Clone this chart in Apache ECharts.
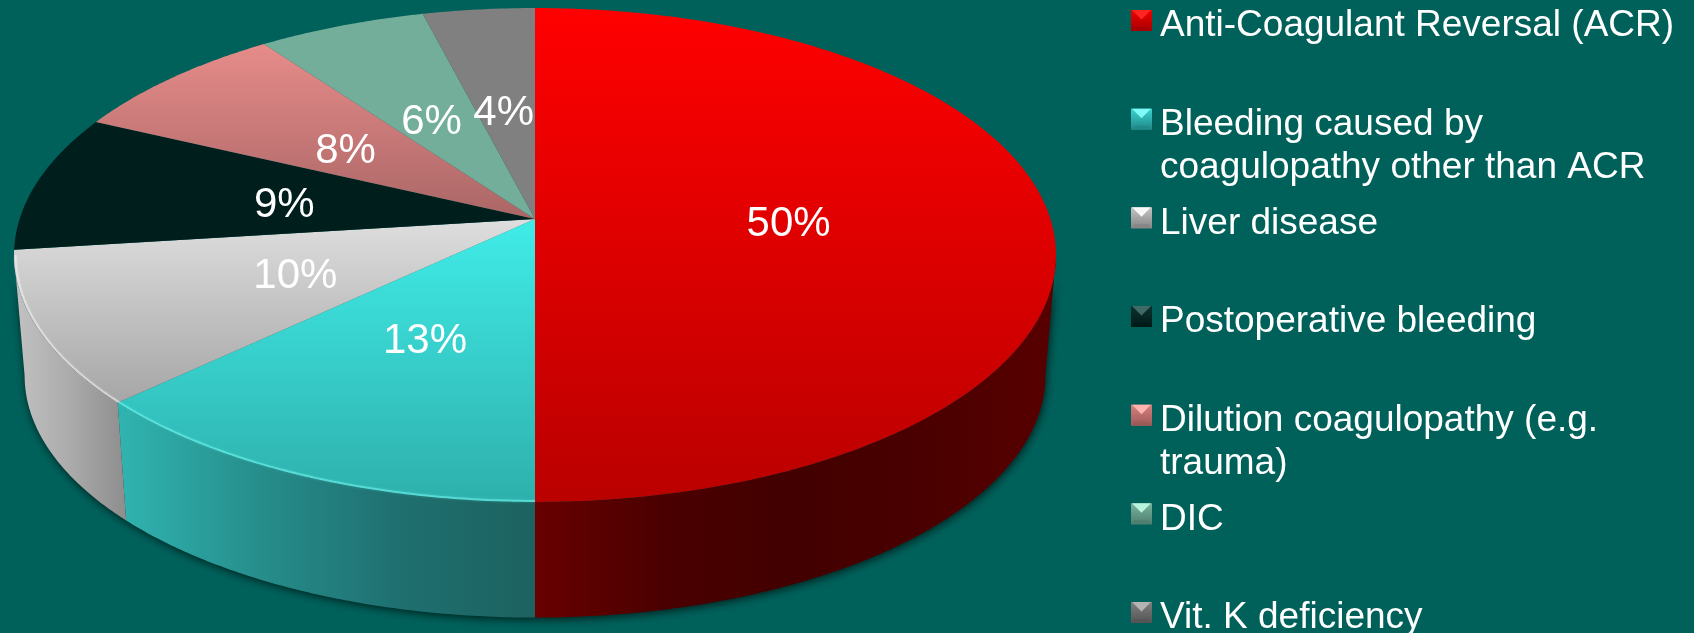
<!DOCTYPE html>
<html>
<head>
<meta charset="utf-8">
<style>
  html, body { margin: 0; padding: 0; background: #00615b; }
  #chart { width: 1694px; height: 633px; }
</style>
<script src="https://cdn.jsdelivr.net/npm/echarts@6/dist/echarts.min.js"></script>
</head>
<body>
<div id="chart"></div>
<script>
// Shares of indication, clockwise from twelve o'clock.
const categories = [
  'Anti-Coagulant Reversal (ACR)',
  'Bleeding caused by\ncoagulopathy other than ACR',
  'Liver disease',
  'Postoperative bleeding',
  'Dilution coagulopathy (e.g.\ntrauma)',
  'DIC',
  'Vit. K deficiency'
];
const shares = [50, 13, 10, 9, 8, 6, 4];

// Perspective disc: a unit circle projected onto the page, apex at (CX, CY).
const CX = 535, CY = 219, RX = 515.4, RY = 241.7, TILT = 0.1457;
// The lower rim is the upper rim pulled toward a far vanishing point.
const VANISH_Y = 6200, DEPTH = 0.0203;
const FONT = '"Liberation Sans", Arial, sans-serif';

const total = shares.reduce((s, v) => s + v, 0);
const spans = [];
shares.reduce((acc, v) => {
  spans.push([acc / total * 360, (acc + v) / total * 360]);
  return acc + v;
}, 0);

const rad = d => d * Math.PI / 180;
function topPoint(deg, f) {
  const a = f * Math.sin(rad(deg)), b = -f * Math.cos(rad(deg));
  const w = 1 - TILT * b;
  return [CX + RX * a / w, CY + RY * b / w];
}
function lowPoint(deg) {
  const p = topPoint(deg, 1);
  return [p[0] + DEPTH * (CX - p[0]), p[1] + DEPTH * (VANISH_Y - p[1])];
}
function arc(fn, from, to) {
  const n = Math.max(2, Math.ceil(Math.abs(to - from) * 2));
  const pts = [];
  for (let i = 0; i <= n; i++) pts.push(fn(from + (to - from) * i / n));
  return pts;
}
// Angles where the rim turns from the visible front to the hidden back.
const FRONT_FROM = Math.acos(-TILT) * 180 / Math.PI, FRONT_TO = 360 - FRONT_FROM;

const vgrad = (y0, y1, c0, c1) => ({
  type: 'linear', global: true, x: 0, y: y0, x2: 0, y2: y1,
  colorStops: [{ offset: 0, color: c0 }, { offset: 1, color: c1 }]
});
const hgrad = (x0, x1, stops) => ({
  type: 'linear', global: true, x: x0, y: 0, x2: x1, y2: 0,
  colorStops: stops.map((c, i) => ({ offset: i / (stops.length - 1), color: c }))
});

const faceFills = [
  vgrad(8, 502, '#ff0000', '#ba0000'),
  vgrad(219, 502, '#40ece8', '#2eb0ac'),
  vgrad(219, 403, '#dedede', '#a6a6a6'),
  vgrad(122, 250, '#001e1c', '#001e1c'),
  vgrad(44, 219, '#e68c8a', '#aa6666'),
  vgrad(14, 219, '#73ae9a', '#73ae9a'),
  vgrad(8, 219, '#808080', '#808080')
];
const sideFills = [
  hgrad(535, 1055, ['#680000', '#4a0000', '#420000', '#4a0000', '#580000']),
  hgrad(119, 535, ['#30b4b0', '#268e8c', '#1f7070', '#1c6260']),
  hgrad(14, 125, ['#c2c2c2', '#ababab', '#8e8e8e'])
];
const rimGlow = ['rgba(255,60,60,0)', 'rgba(120,250,245,0.5)', 'rgba(245,245,245,0.5)'];
const markerTones = [
  ['#ff2424', '#ee0000', '#a80000'],
  ['#7ffaf6', '#3cd2d0', '#1f8a88'],
  ['#f8f8f8', '#c4c4c4', '#868686'],
  ['#3f6a66', '#0e3230', '#001a18'],
  ['#ffb4b2', '#d8807e', '#9c5a58'],
  ['#b8f4dc', '#78b4a0', '#4f7f6e'],
  ['#b4b4b4', '#7e7e7e', '#555555']
];

const flat = pts => ({ points: pts });

function renderShadow() {
  const outline = arc(lowPoint, FRONT_FROM, FRONT_TO).concat(arc(d => topPoint(d, 1), FRONT_TO, FRONT_FROM));
  return {
    type: 'polygon', shape: flat(outline),
    style: { fill: '#003c38', shadowBlur: 8, shadowColor: 'rgba(0,20,18,0.85)', shadowOffsetY: 2, shadowOffsetX: 1 }
  };
}

function renderSide(params) {
  const [s, e] = spans[params.dataIndex];
  const from = Math.max(s, FRONT_FROM), to = Math.min(e, FRONT_TO);
  if (to <= from) return null;
  const upper = arc(d => topPoint(d, 1), from, to);
  const lower = arc(lowPoint, to, from);
  return {
    type: 'polygon', shape: flat(upper.concat(lower)),
    style: { fill: sideFills[params.dataIndex] }
  };
}

function renderFace(params) {
  const i = params.dataIndex;
  const [s, e] = spans[i];
  const rim = arc(d => topPoint(d, 1), s, e);
  const children = [{
    type: 'polygon', shape: flat([[CX, CY]].concat(rim)),
    style: { fill: faceFills[i] }
  }];
  if (i === 1 || i === 2) {
    const from = Math.max(s, FRONT_FROM), to = Math.min(e, FRONT_TO);
    children.push({
      type: 'polyline', shape: flat(arc(d => topPoint(d, 0.997), from, to)),
      style: { fill: 'none', stroke: rimGlow[i], lineWidth: 2, shadowBlur: 3, shadowColor: rimGlow[i] }
    });
  }
  return { type: 'group', children };
}

const shareLabel = i => shares[i] + '%';
function renderShareLabel(params) {
  const i = params.dataIndex;
  const [s, e] = spans[i];
  const p = topPoint((s + e) / 2, 0.495);
  return {
    type: 'text',
    style: {
      x: p[0] - 1.5, y: p[1] + 5, text: shareLabel(i), fill: '#ffffff',
      font: '42px ' + FONT, align: 'center', verticalAlign: 'middle'
    }
  };
}

// Legend rows sit on an even pitch; wrapped entries grow downward from their row.
const ROW_TOP = 10, ROW_PITCH = 98.67, BOX = 21, BOX_X = 1131, TEXT_X = 1160;
function renderLegendRow(params) {
  const i = params.dataIndex;
  const y = ROW_TOP + ROW_PITCH * i;
  const x = BOX_X, m = BOX / 2;
  const [light, mid, dark] = markerTones[i];
  return {
    type: 'group',
    children: [
      { type: 'rect', shape: { x, y, width: BOX, height: BOX }, style: { fill: vgrad(y, y + BOX, mid, dark) } },
      { type: 'polygon', shape: flat([[x + 1, y], [x + BOX - 1, y], [x + m, y + m - 1]]), style: { fill: light } },
      { type: 'polygon', shape: flat([[x, y + BOX], [x + BOX, y + BOX], [x + BOX - 4, y + BOX - 4], [x + 4, y + BOX - 4]]), style: { fill: dark } },
      {
        type: 'text',
        style: {
          x: TEXT_X, y: y - 5.5, text: categories[i], fill: '#ffffff',
          font: '37px ' + FONT, lineHeight: 43, align: 'left', verticalAlign: 'top'
        }
      }
    ]
  };
}

const chart = echarts.init(document.getElementById('chart'), null, { renderer: 'canvas' });
chart.setOption({
  backgroundColor: '#00615b',
  animation: false,
  tooltip: { show: false },
  series: [
    { type: 'custom', name: 'shadow', coordinateSystem: 'none', silent: true, data: [0], renderItem: renderShadow },
    { type: 'custom', name: 'sides', coordinateSystem: 'none', silent: true, data: shares, renderItem: renderSide },
    { type: 'custom', name: 'faces', coordinateSystem: 'none', silent: true, data: shares, renderItem: renderFace },
    { type: 'custom', name: 'labels', coordinateSystem: 'none', silent: true, data: shares, renderItem: renderShareLabel },
    { type: 'custom', name: 'legend', coordinateSystem: 'none', silent: true, data: shares, renderItem: renderLegendRow }
  ]
});
</script>
</body>
</html>
